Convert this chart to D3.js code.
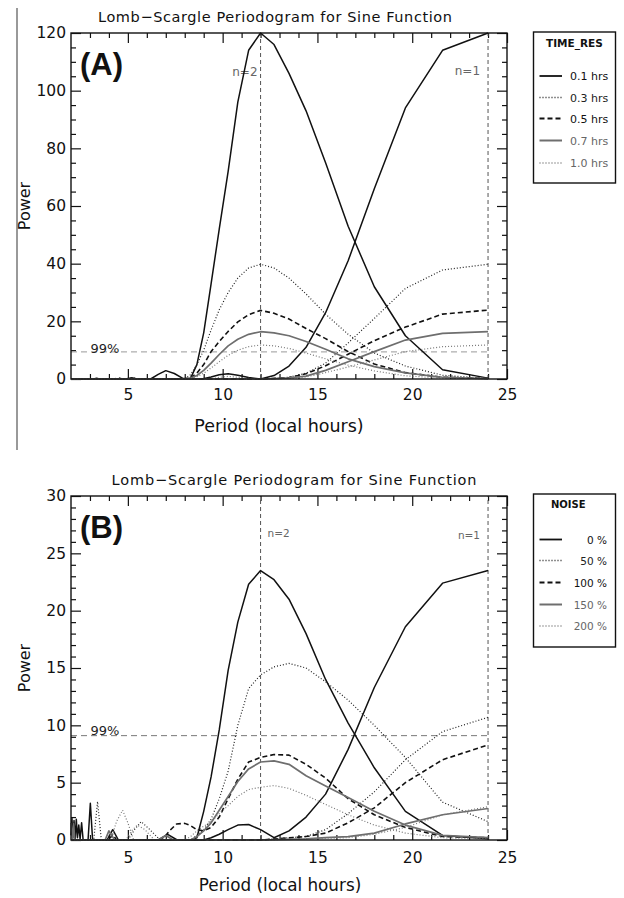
<!DOCTYPE html>
<html lang="en">
<head>
<meta charset="UTF-8">
<title>Lomb-Scargle Periodogram for Sine Function</title>
<style>
  body { margin: 0; background: #fff; }
  svg { display: block; font-family: "DejaVu Sans", sans-serif; }
</style>
</head>
<body>
<svg width="624" height="898"></svg>

<script src="https://d3js.org/d3.v7.min.js"></script>
<script>

// ---- data: [period (hours), power] ----
var periodTicks = [5, 10, 15, 20, 25];
var powerTicksA = [0, 20, 40, 60, 80, 100, 120];
var powerTicksB = [0, 5, 10, 15, 20, 25, 30];
var harmonicPeriods = [12, 24];
var harmonicLabels = ["n=2", "n=1"];
var timeResLabels = ["0.1 hrs", "0.3 hrs", "0.5 hrs", "0.7 hrs", "1.0 hrs"];
var noiseLabels = ["0 %", "50 %", "100 %", "150 %", "200 %"];
var sigLevelA = 9.4;
var sigLevelB = 9.1;

// panel A, time resolution
var a01n2 = [[2,0],[4.9,0],[5.2,0.4],[5.5,0],[6.2,0],[6.6,1.6],[7.0,2.9],[7.45,1.9],[7.9,0.2],[8.31,0.3],[8.64,5],[9.0,16],[9.39,33],[9.82,52],[10.29,72],[10.8,96],[11.37,114],[12,120],[12.71,116],[13.5,106],[14.4,93],[15.43,75],[16.62,53],[18,32],[19.64,15],[21.6,3.2],[24,0.3]];
var a01n1 = [[2,0],[3.2,0],[3.35,0.3],[3.5,0],[8.9,0],[9.39,0.7],[9.82,1.5],[10.29,1.8],[10.8,1.3],[11.37,0.5],[12,0],[12.71,1.2],[13.5,4.5],[14.4,11],[15.43,23],[16.62,41],[18,66],[19.64,94],[21.6,114],[24,120]];
var a03n2 = [[2,0],[8.0,0],[8.31,1.5],[8.64,5],[9.0,10],[9.39,17],[9.82,24],[10.29,30],[10.8,35],[11.37,38.5],[12,39.8],[12.71,38.5],[13.5,35],[14.4,29.5],[15.43,22.5],[16.62,15.5],[18,9],[19.64,4.5],[21.6,1.3],[24,0.2]];
var a03n1 = [[2,0],[4.8,0],[5.2,0.5],[5.6,0],[12,0],[12.71,0.2],[13.5,0.6],[14.4,2.0],[15.43,5.5],[16.62,12.5],[18,21],[19.64,31.4],[21.6,37.8],[24,39.8]];
var a05n2 = [[2,0],[4.3,0],[4.5,0.4],[4.7,0],[8.0,0],[8.31,0.5],[8.64,2],[9.0,5],[9.39,9.5],[9.82,13],[10.29,16.5],[10.8,19.8],[11.37,22.3],[12,23.8],[12.71,22.8],[13.5,20.8],[14.4,17.5],[15.43,14],[16.62,9.5],[18,5.2],[19.64,2.2],[21.6,0.6],[24,0.2]];
var a05n1 = [[2,0],[12,0],[12.71,0.2],[13.5,0.5],[14.4,1.8],[15.43,4.6],[16.62,8.6],[18,13.3],[19.64,18],[21.6,22.5],[24,23.9]];
var a07n2 = [[2,0],[8.0,0],[8.31,0.3],[8.64,1.2],[9.0,3],[9.39,5.5],[9.82,8.5],[10.29,11.5],[10.8,13.8],[11.37,15.5],[12,16.4],[12.71,16],[13.5,15],[14.4,13],[15.43,10.3],[16.62,7],[18,4.3],[19.64,2.1],[21.6,0.6],[24,0.1]];
var a07n1 = [[2,0],[12,0],[12.71,0.1],[13.5,0.4],[14.4,1],[15.43,3],[16.62,6],[18,9.5],[19.64,13.5],[21.6,15.8],[24,16.4]];
var a10n2 = [[2,0],[8.0,0],[8.31,0.2],[8.64,0.8],[9.0,2],[9.39,3.8],[9.82,6],[10.29,8.2],[10.8,10],[11.37,11.2],[12,11.8],[12.71,11.5],[13.5,10.6],[14.4,9],[15.43,7],[16.62,4.8],[18,2.8],[19.64,1.1],[21.6,0.3],[24,0.1]];
var a10n1 = [[2,0],[9.39,0],[9.82,0.6],[10.29,0.9],[10.8,0.6],[11.37,0.2],[12,0],[12.71,0.1],[13.5,0.2],[14.4,0.7],[15.43,2.2],[16.62,4.2],[18,6.6],[19.64,9.5],[21.6,11.2],[24,11.8]];

// panel B, noise level
var b0n2 = [[2,0.4],[2.05,1.9],[2.1,0.2],[2.16,1.7],[2.22,0.1],[2.28,1.8],[2.34,0.2],[2.41,1.3],[2.48,0.1],[2.56,1.5],[2.64,0],[2.9,0],[3.02,3.2],[3.14,0],[6.6,0],[7.1,0.5],[7.6,0],[8.31,0],[8.64,0.2],[9.0,2.5],[9.39,5.5],[9.82,9.6],[10.29,14.8],[10.8,19],[11.37,22.3],[12,23.5],[12.71,22.7],[13.5,21],[14.4,18],[15.43,14],[16.62,10.2],[18,6.3],[19.64,2.5],[21.6,0.4],[24,0.1]];
var b0n1 = [[2,0],[3.9,0],[4.2,0.9],[4.5,0],[9.0,0],[9.39,0.2],[9.82,0.5],[10.29,0.9],[10.8,1.3],[11.37,1.35],[12,0.9],[12.71,0.2],[13.5,0.8],[14.4,2.0],[15.43,4.0],[16.62,7.9],[18,13.3],[19.64,18.6],[21.6,22.4],[24,23.5]];
var b50n2 = [[2,0],[5.0,0],[5.35,0.9],[5.7,1.6],[6.1,1.0],[6.7,0],[8.31,0],[8.64,0.4],[9.0,0.9],[9.39,1.8],[9.82,3.6],[10.29,6.0],[10.8,10.0],[11.37,13.2],[12,14.4],[12.71,15.1],[13.5,15.4],[14.4,15],[15.43,13.8],[16.62,12.2],[18,10],[19.64,7.2],[21.6,3.3],[24,1.6]];
var b50n1 = [[2,0],[3.2,0],[3.4,3.35],[3.6,0],[12,0],[13.5,0.2],[14.4,0.3],[15.43,0.9],[16.62,2.3],[18,4.2],[19.64,7.0],[21.6,9.45],[24,10.7]];
var b100n2 = [[2,0],[6.8,0],[7.2,0.8],[7.57,1.4],[8.0,1.45],[8.31,1.25],[8.64,0.9],[9.0,0.8],[9.39,1.1],[9.82,2.0],[10.29,3.6],[10.8,5.3],[11.37,6.8],[12,7.2],[12.71,7.45],[13.5,7.4],[14.4,6.6],[15.43,5.4],[16.62,3.6],[18,2.2],[19.64,1.1],[21.6,0.3],[24,0.2]];
var b100n1 = [[2,0],[4.0,0],[4.2,0.5],[4.4,0],[12,0],[14.4,0.3],[15.43,0.6],[16.62,1.5],[18,2.8],[19.64,5.0],[21.6,7.0],[24,8.3]];
var b150n2 = [[2,1.5],[2.08,0.1],[2.14,1.4],[2.2,0],[3.8,0],[4.0,0.8],[4.3,0],[6.6,0],[7.0,0.4],[7.4,0],[8.31,0],[8.64,0.3],[9.0,0.8],[9.39,1.5],[9.82,2.6],[10.29,3.8],[10.8,5.1],[11.37,6.2],[12,6.8],[12.71,6.9],[13.5,6.6],[14.4,5.6],[15.43,4.7],[16.62,3.7],[18,2.5],[19.64,1.3],[21.6,0.4],[24,0.2]];
var b150n1 = [[2,0],[12,0],[14.4,0.1],[15.43,0.2],[16.62,0.3],[18,0.6],[19.64,1.4],[21.6,2.2],[24,2.75]];
var b200n2 = [[2,0],[4.1,0],[4.4,1.6],[4.72,2.6],[5.0,1.5],[5.3,0],[8.0,0],[8.31,0.3],[8.64,0.8],[9.0,1.2],[9.39,1.6],[9.82,2.3],[10.29,3.0],[10.8,3.8],[11.37,4.4],[12,4.6],[12.71,4.75],[13.5,4.5],[14.4,3.9],[15.43,3.1],[16.62,2.2],[18,1.3],[19.64,0.6],[21.6,0.2],[24,0.1]];
var b200n1 = [[2,0],[4.9,0],[5.2,0.8],[5.5,1.3],[5.9,0.9],[6.4,0],[12,0],[16.62,0.2],[18,0.5],[19.64,1.1],[21.6,2.2],[24,2.9]];

// line styles, one per legend entry (same order in both panels)
var lineStyles = [
    {color: "#111", width: 1.5, dash: null, text: "#111"},
    {color: "#222", width: 1.2, dash: "1,2", text: "#222"},
    {color: "#111", width: 1.6, dash: "5,3", text: "#111"},
    {color: "#6e6e6e", width: 1.7, dash: null, text: "#666"},
    {color: "#777", width: 1.2, dash: "1,2", text: "#666"}
];

var svg = d3.select("svg");
var x = d3.scaleLinear().domain([2, 25]).range([71, 507]);

function translate(a, b) { return "translate(" + a + "," + b + ")"; }

// stray border line at the left of panel A
svg.append("line")
    .attr("x1", 17).attr("x2", 17).attr("y1", 8).attr("y2", 450)
    .attr("stroke", "#777").attr("stroke-width", 1.5);

var panels = [
    {
        letter: "(A)", letterY: 75, top: 33, bottom: 379, yMax: 120, yTicks: powerTicksA, yMinor: 5,
        titleX: 275, titleY: 21.5, titleLen: 354, xLabelX: 279, xLabelY: 431.5, xLabelSize: 17.5, xPad: 10,
        sig: sigLevelA, sigColor: "#999", sigLabelY: 352.5,
        n2: {x: -3, y: 76, anchor: "end", size: 12}, n1: {x: -8, y: 75, size: 12},
        curves: [[a01n2, a01n1], [a03n2, a03n1], [a05n2, a05n1], [a07n2, a07n1], [a10n2, a10n1]],
        legend: {title: "TIME_RES", labels: timeResLabels, top: 32, bottom: 183, titleX: 546, titleY: 46.5, titleSize: 10.5,
                 rowY: [76, 97.5, 118.5, 140.5, 163], textX: 570, anchor: "start", size: 11}
    },
    {
        letter: "(B)", letterY: 538, top: 496, bottom: 840, yMax: 30, yTicks: powerTicksB, yMinor: 1,
        titleX: 294, titleY: 485, titleLen: 365, xLabelX: 280, xLabelY: 890.5, xLabelSize: 16.8, xPad: 12,
        sig: sigLevelB, sigColor: "#777", sigLabelY: 735,
        n2: {x: 7, y: 537, anchor: "start", size: 10.5}, n1: {x: -8, y: 539, size: 10.5},
        curves: [[b0n2, b0n1], [b50n2, b50n1], [b100n2, b100n1], [b150n2, b150n1], [b200n2, b200n1]],
        legend: {title: "NOISE", labels: noiseLabels, top: 494, bottom: 647, titleX: 551, titleY: 508, titleSize: 10,
                 rowY: [539.5, 560.5, 582.5, 604.5, 626], textX: 607, anchor: "end", size: 10.5}
    }
];

function styleAxis(g, size) {
    g.select(".domain").remove();
    g.selectAll(".tick line").attr("stroke", "#111").attr("stroke-width", 1.2);
    g.selectAll(".tick text").attr("fill", "#111")
        .attr("font-family", "DejaVu Sans, sans-serif").attr("font-size", size);
}

panels.forEach(function(p) {
    var y = d3.scaleLinear().domain([0, p.yMax]).range([p.bottom, p.top]);
    var g = svg.append("g");

    var xMinor = d3.range(3, 25).filter(function(v) { return periodTicks.indexOf(v) < 0; });
    var yMinor = d3.range(0, p.yMax, p.yMinor).filter(function(v) { return p.yTicks.indexOf(v) < 0; });

    // axes, ticks pointing inward on all four sides
    g.append("g").attr("transform", translate(0, p.bottom))
        .call(d3.axisBottom(x).tickValues(periodTicks).tickSizeInner(-10).tickSizeOuter(0).tickPadding(p.xPad))
        .call(styleAxis, 15.5);
    g.append("g").attr("transform", translate(0, p.bottom))
        .call(d3.axisBottom(x).tickValues(xMinor).tickSize(-5).tickFormat(""))
        .call(styleAxis, 15);
    g.append("g").attr("transform", translate(0, p.top))
        .call(d3.axisTop(x).tickValues(periodTicks).tickSize(-10).tickFormat(""))
        .call(styleAxis, 15);
    g.append("g").attr("transform", translate(0, p.top))
        .call(d3.axisTop(x).tickValues(xMinor).tickSize(-5).tickFormat(""))
        .call(styleAxis, 15);
    g.append("g").attr("transform", translate(71, 0))
        .call(d3.axisLeft(y).tickValues(p.yTicks).tickSizeInner(-10).tickSizeOuter(0).tickPadding(5))
        .call(styleAxis, 15.5);
    g.append("g").attr("transform", translate(71, 0))
        .call(d3.axisLeft(y).tickValues(yMinor).tickSize(-5).tickFormat(""))
        .call(styleAxis, 15);
    g.append("g").attr("transform", translate(507, 0))
        .call(d3.axisRight(y).tickValues(p.yTicks).tickSize(-10).tickFormat(""))
        .call(styleAxis, 15);
    g.append("g").attr("transform", translate(507, 0))
        .call(d3.axisRight(y).tickValues(yMinor).tickSize(-5).tickFormat(""))
        .call(styleAxis, 15);

    // significance level and harmonic markers
    g.append("line")
        .attr("x1", x(2)).attr("x2", x(24)).attr("y1", y(p.sig)).attr("y2", y(p.sig))
        .attr("stroke", p.sigColor).attr("stroke-width", 1).attr("stroke-dasharray", "6,4");
    g.append("text").attr("x", 90.5).attr("y", p.sigLabelY)
        .attr("font-size", 13).attr("fill", "#222").text("99%");

    harmonicPeriods.forEach(function(h, i) {
        g.append("line")
            .attr("x1", x(h)).attr("x2", x(h)).attr("y1", y(0)).attr("y2", y(p.yMax))
            .attr("stroke", "#555").attr("stroke-width", 1).attr("stroke-dasharray", "4,3");
        var lab = i === 0 ? p.n2 : p.n1;
        g.append("text")
            .attr("x", x(h) + lab.x).attr("y", lab.y)
            .attr("text-anchor", lab.anchor || "end")
            .attr("font-size", lab.size).attr("fill", "#666")
            .text(harmonicLabels[i]);
    });

    // periodogram curves
    var line = d3.line().x(function(d) { return x(d[0]); }).y(function(d) { return y(d[1]); });
    p.curves.forEach(function(pair, i) {
        var st = lineStyles[i];
        pair.forEach(function(c) {
            g.append("path").datum(c)
                .attr("d", line)
                .attr("fill", "none")
                .attr("stroke", st.color)
                .attr("stroke-width", st.width)
                .attr("stroke-dasharray", st.dash)
                .attr("stroke-linejoin", "round");
        });
    });

    // frame
    g.append("rect")
        .attr("x", 71).attr("y", p.top).attr("width", 507 - 71).attr("height", p.bottom - p.top)
        .attr("fill", "none").attr("stroke", "#111").attr("stroke-width", 1.4);

    // texts
    g.append("text").attr("x", p.titleX).attr("y", p.titleY)
        .attr("text-anchor", "middle").attr("font-size", 14.5).attr("fill", "#111")
        .attr("textLength", p.titleLen).attr("lengthAdjust", "spacing")
        .text("Lomb\u2212Scargle Periodogram for Sine Function");
    g.append("text").attr("x", 80).attr("y", p.letterY)
        .attr("font-family", "Liberation Sans, Arial, sans-serif").attr("font-weight", "bold")
        .attr("font-size", 31).attr("fill", "#111").text(p.letter);
    g.append("text").attr("x", p.xLabelX).attr("y", p.xLabelY)
        .attr("text-anchor", "middle").attr("font-size", p.xLabelSize).attr("fill", "#111")
        .text("Period (local hours)");
    g.append("text").attr("transform", translate(30, (p.top + p.bottom) / 2) + " rotate(-90)")
        .attr("text-anchor", "middle").attr("font-size", 16).attr("fill", "#111")
        .text("Power");

    // legend box
    var lg = p.legend;
    g.append("rect")
        .attr("x", 533.5).attr("y", lg.top).attr("width", 82).attr("height", lg.bottom - lg.top)
        .attr("fill", "#fff").attr("stroke", "#111").attr("stroke-width", 1.4);
    g.append("text").attr("x", lg.titleX).attr("y", lg.titleY)
        .attr("font-size", lg.titleSize).attr("font-weight", "bold").attr("fill", "#111")
        .text(lg.title);
    lg.labels.forEach(function(label, i) {
        var st = lineStyles[i];
        g.append("line")
            .attr("x1", 539.5).attr("x2", 562).attr("y1", lg.rowY[i]).attr("y2", lg.rowY[i])
            .attr("stroke", st.color).attr("stroke-width", st.width + 0.3)
            .attr("stroke-dasharray", st.dash);
        g.append("text").attr("x", lg.textX).attr("y", lg.rowY[i] + 4)
            .attr("text-anchor", lg.anchor).attr("font-size", lg.size).attr("fill", st.text)
            .text(label);
    });
});

</script>
</body>
</html>
